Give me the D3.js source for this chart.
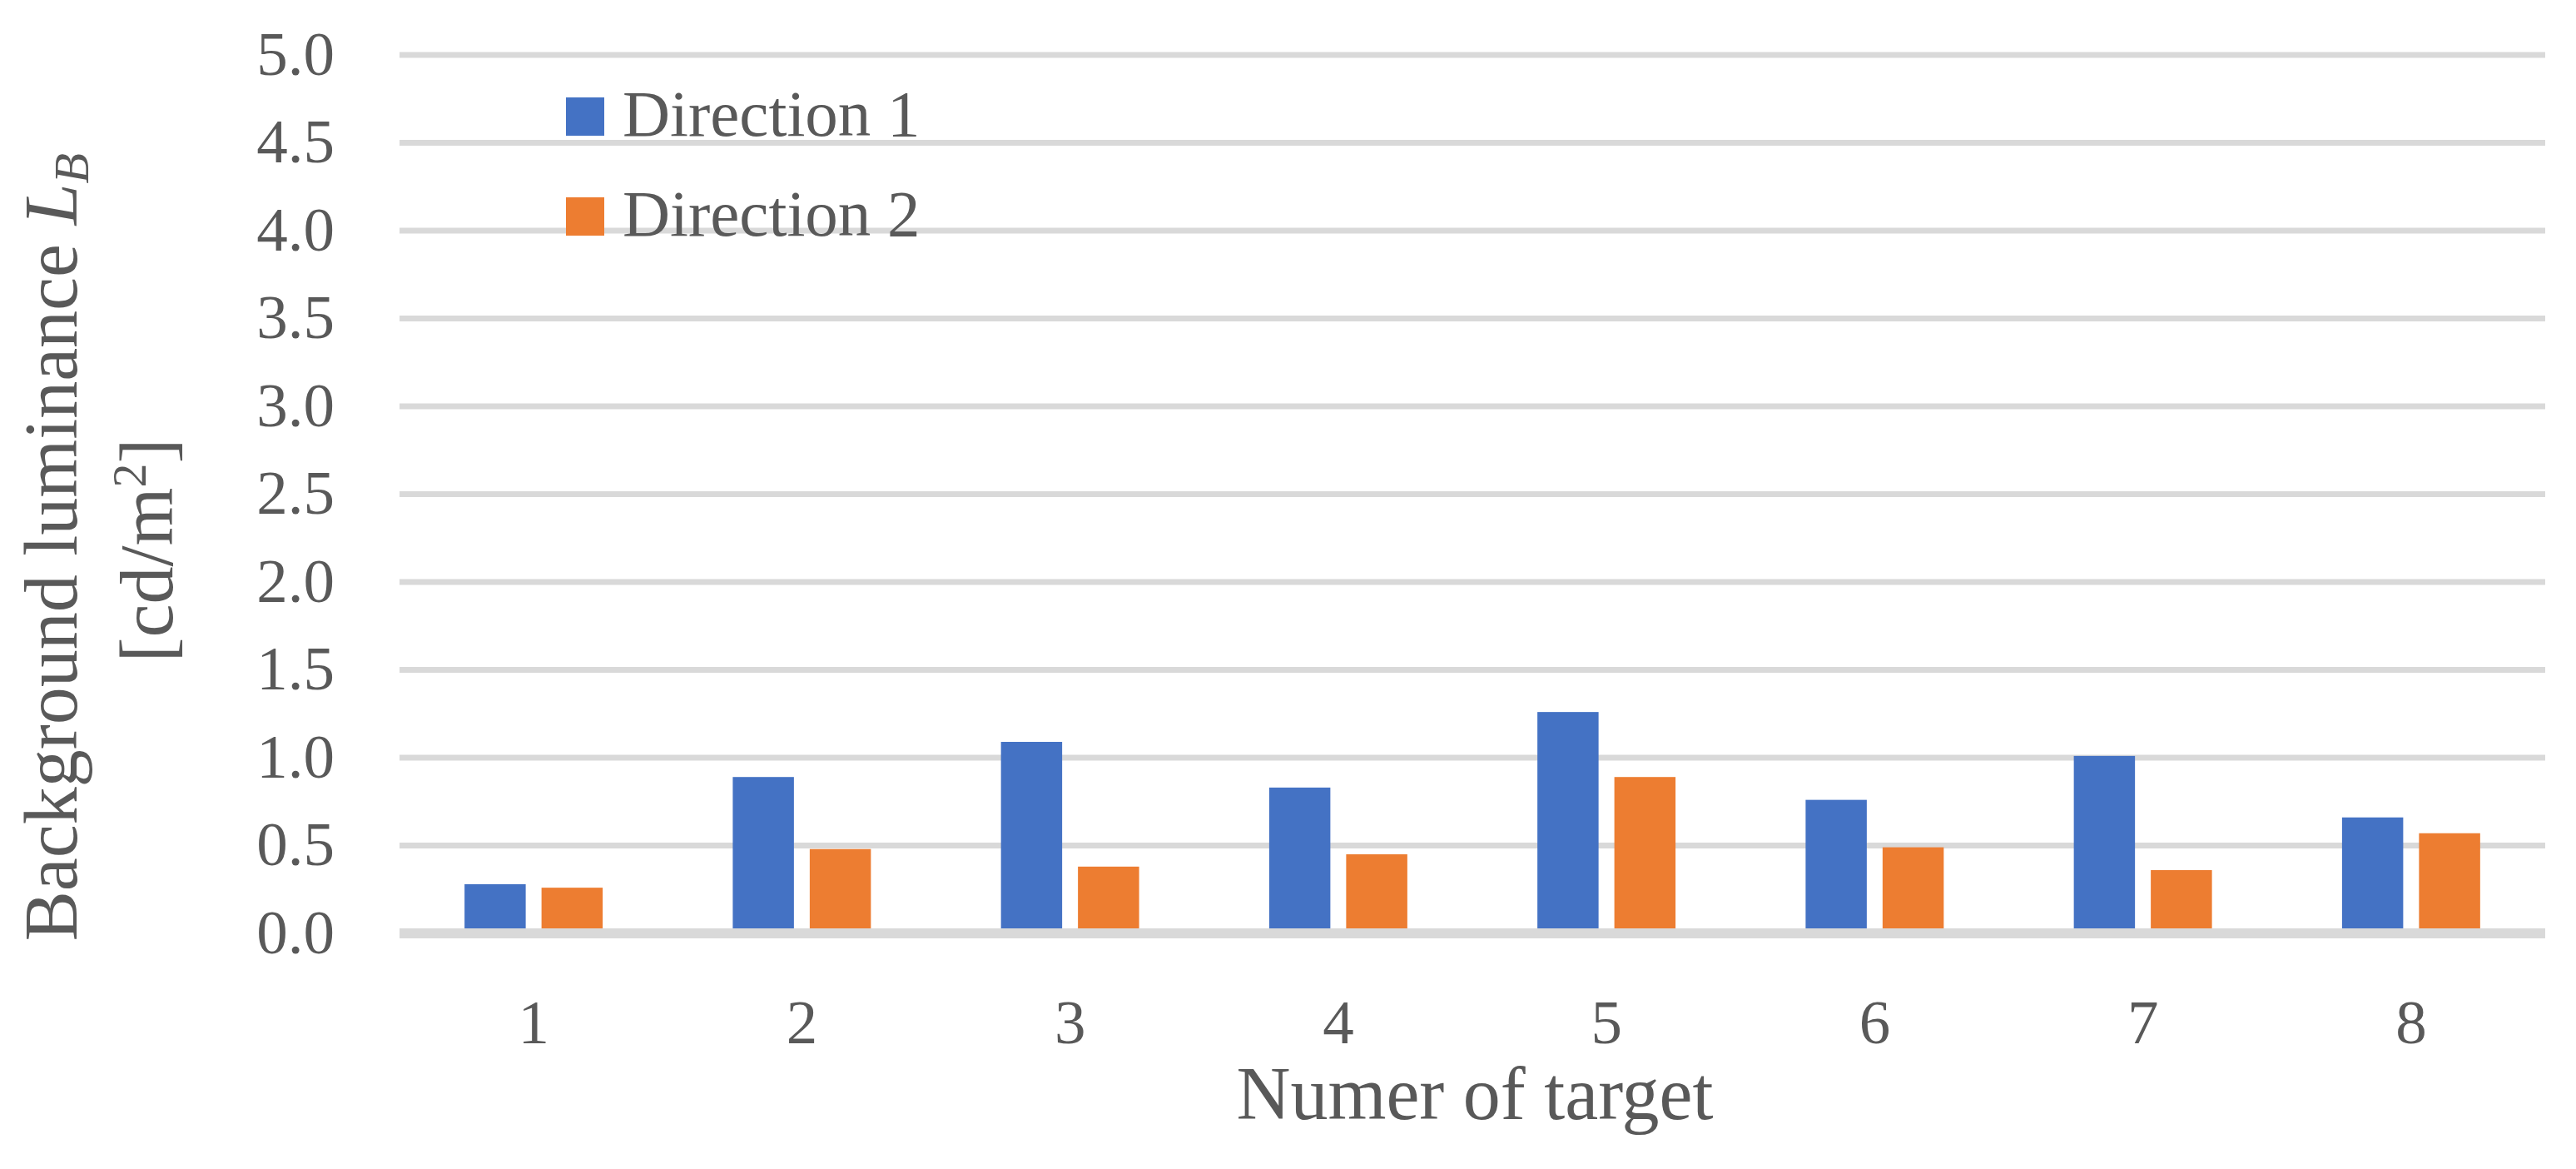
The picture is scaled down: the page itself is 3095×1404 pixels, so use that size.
<!DOCTYPE html>
<html>
<head>
<meta charset="utf-8">
<script src="https://cdn.jsdelivr.net/npm/d3@7"></script>
<style>
  html, body { margin: 0; padding: 0; background: #ffffff; }
  svg { display: block; }
  text { font-family: "Liberation Serif", "DejaVu Serif", serif; fill: #595959; }
</style>
</head>
<body>
<script>
// ---- Data ----
const categories = ["1", "2", "3", "4", "5", "6", "7", "8"];
const seriesNames = ["Direction 1", "Direction 2"];
const direction1 = [0.28, 0.89, 1.09, 0.83, 1.26, 0.76, 1.01, 0.66];
const direction2 = [0.26, 0.48, 0.38, 0.45, 0.89, 0.49, 0.36, 0.57];
const yTicks = [0, 0.5, 1.0, 1.5, 2.0, 2.5, 3.0, 3.5, 4.0, 4.5, 5.0];
const colors = ["#4472C4", "#ED7D31"];

const W = 3095, H = 1404;
const svg = d3.select("body").append("svg").attr("width", W).attr("height", H);

const plotLeft = 480, plotRight = 3058, plotTop = 66, plotBottom = 1121;

const x0 = d3.scaleBand().domain(categories).range([plotLeft, plotRight])
  .paddingInner(0.485).paddingOuter(0.2425);
const x1 = d3.scaleBand().domain(seriesNames).range([0, x0.bandwidth()])
  .paddingInner(0.2054).paddingOuter(0);
const y = d3.scaleLinear().domain([0, 5]).range([plotBottom, plotTop]);
const color = d3.scaleOrdinal().domain(seriesNames).range(colors);

// gridlines
svg.append("g").selectAll("line").data(yTicks.filter(d => d !== 0)).join("line")
  .attr("x1", plotLeft).attr("x2", plotRight)
  .attr("y1", d => y(d)).attr("y2", d => y(d))
  .attr("stroke", "#d9d9d9").attr("stroke-width", 7);

// y tick labels via axis
const yAxis = d3.axisLeft(y).tickValues(yTicks).tickFormat(d3.format(".1f")).tickSize(0).tickPadding(0);
const yg = svg.append("g").attr("transform", `translate(402,0)`).call(yAxis);
yg.select(".domain").remove();
yg.selectAll("text").attr("font-size", 75).attr("fill", "#595959")
  .attr("font-family", "Liberation Serif, serif")
  .attr("dy", 23).attr("x", 0).attr("text-anchor", "end");

// bars
const rows = categories.map((c, i) => ({ cat: c, vals: [direction1[i], direction2[i]] }));
const groups = svg.append("g").selectAll("g").data(rows).join("g")
  .attr("transform", d => `translate(${x0(d.cat)},0)`);
groups.selectAll("rect").data(d => d.vals.map((v, j) => ({ name: seriesNames[j], v }))).join("rect")
  .attr("x", d => x1(d.name)).attr("width", x1.bandwidth())
  .attr("y", d => y(d.v)).attr("height", d => y(0) - y(d.v))
  .attr("fill", d => color(d.name));

// baseline (zero axis)
svg.append("line").attr("x1", plotLeft).attr("x2", plotRight)
  .attr("y1", y(0)).attr("y2", y(0))
  .attr("stroke", "#d9d9d9").attr("stroke-width", 12);

// x tick labels via axis
const xAxis = d3.axisBottom(x0).tickSize(0).tickPadding(0);
const xg = svg.append("g").attr("transform", `translate(0,0)`).call(xAxis);
xg.select(".domain").remove();
xg.selectAll("text").attr("font-size", 75).attr("fill", "#595959")
  .attr("font-family", "Liberation Serif, serif")
  .attr("y", 1253).attr("dy", 0);

// x title
svg.append("text").attr("x", (plotLeft + plotRight) / 2 + 3).attr("y", 1344)
  .attr("text-anchor", "middle").attr("font-size", 90).text("Numer of target");

// y title line 1
const t1 = svg.append("text").attr("transform", "translate(92,657) rotate(-90)")
  .attr("text-anchor", "middle").attr("font-size", 90);
t1.append("tspan").text("Background luminance ");
t1.append("tspan").attr("font-style", "italic").text("L");
t1.append("tspan").attr("font-style", "italic").attr("font-size", 60).attr("dy", 14).text("B");

// y title line 2
const t2 = svg.append("text").attr("transform", "translate(207,661) rotate(-90)")
  .attr("text-anchor", "middle").attr("font-size", 90);
t2.append("tspan").text("[cd/m");
t2.append("tspan").attr("font-size", 58).attr("dy", -32).text("2");
t2.append("tspan").attr("dy", 32).text("]");

// legend
const leg = svg.append("g").selectAll("g").data(seriesNames).join("g")
  .attr("transform", (d, i) => `translate(680,${117 + i * 120})`);
leg.append("rect").attr("width", 46).attr("height", 46).attr("fill", d => color(d));
leg.append("text").attr("x", 68).attr("y", 46).attr("font-size", 79).text(d => d);
</script>
</body>
</html>
